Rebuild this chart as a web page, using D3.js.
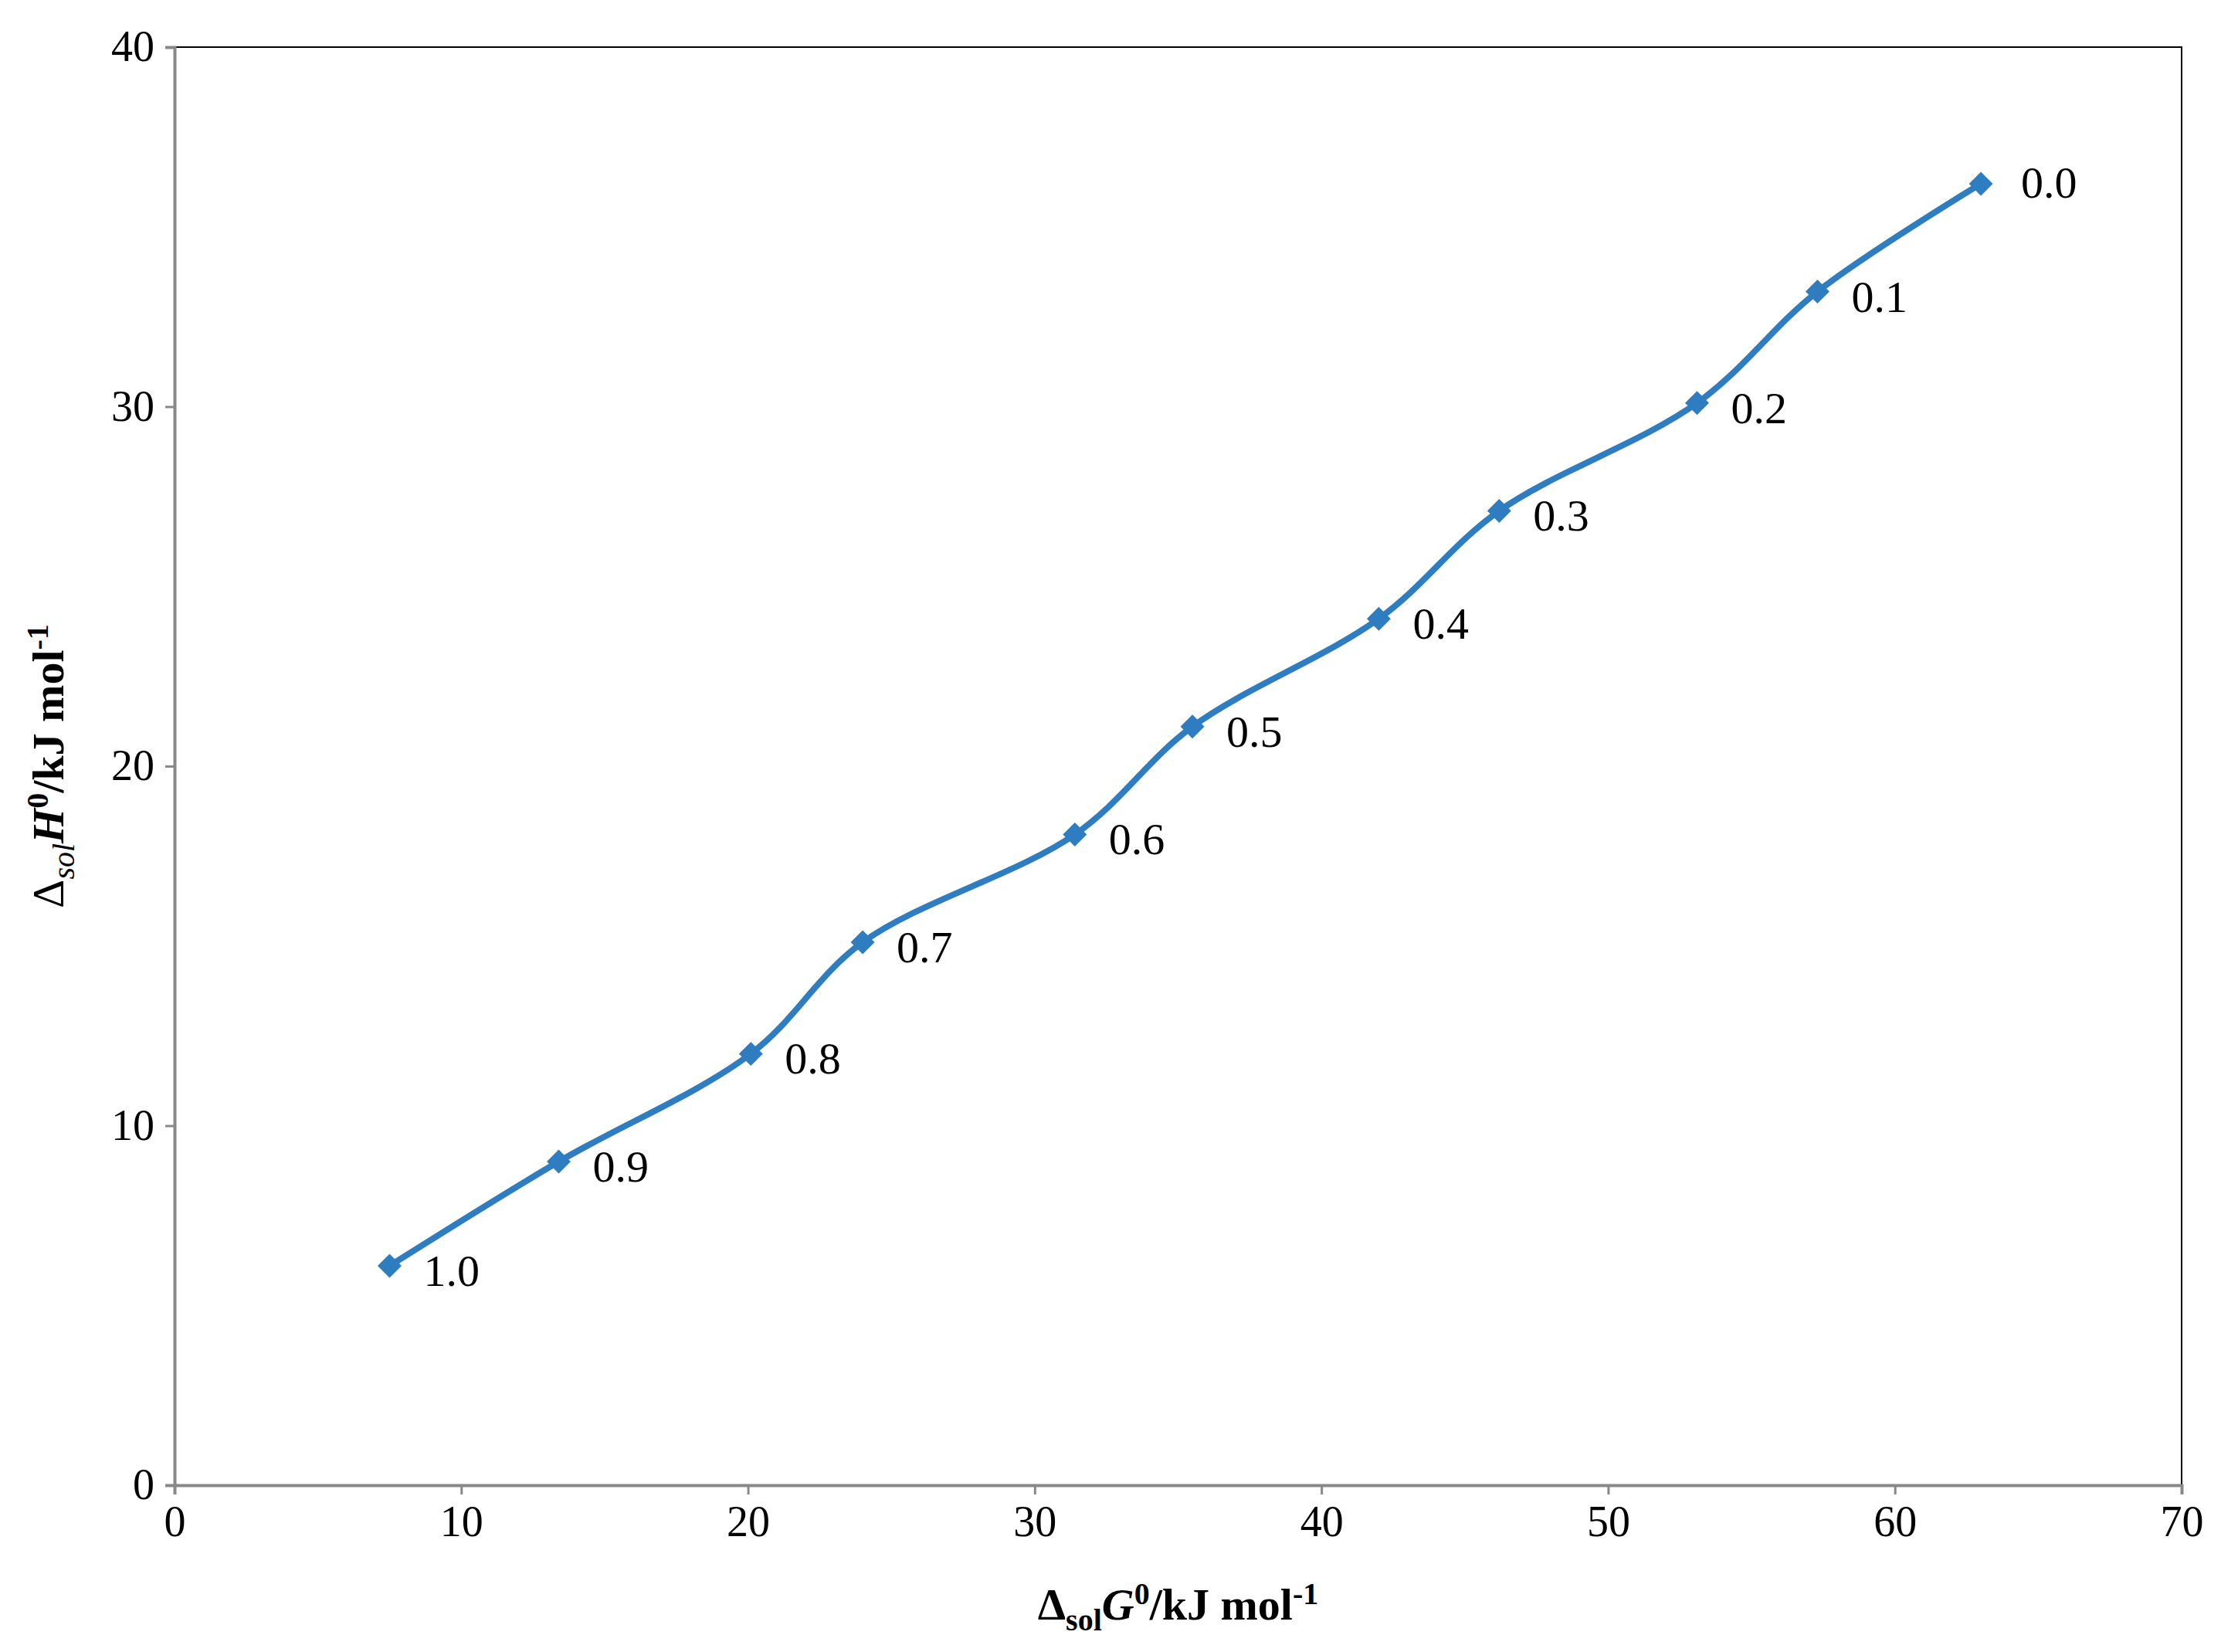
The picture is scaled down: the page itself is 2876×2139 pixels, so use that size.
<!DOCTYPE html>
<html><head><meta charset="utf-8">
<script src="https://cdn.jsdelivr.net/npm/d3@7"></script>
<style>body{margin:0;background:#fff}text{font-family:"Liberation Serif","Times New Roman",serif}</style>
</head><body>
<script>
var xVals = [7.5, 13.4, 20.1, 24.0, 31.4, 35.5, 42.0, 46.2, 53.1, 57.3, 63.0];
var yVals = [6.1, 9.0, 12.0, 15.1, 18.1, 21.1, 24.1, 27.1, 30.1, 33.2, 36.2];
var pointLabels = ["1.0","0.9","0.8","0.7","0.6","0.5","0.4","0.3","0.2","0.1","0.0"];
var xTicks = [0,10,20,30,40,50,60,70];
var yTicks = [0,10,20,30,40];

var W = 2876, H = 2139;
var margin = {top: 61, right: 51, bottom: 216, left: 226};
var width = W - margin.left - margin.right, height = H - margin.top - margin.bottom;
var data = xVals.map(function(x,i){ return {x:x, y:yVals[i], label:pointLabels[i]} });

var svg = d3.select("body").append("svg").attr("width",W).attr("height",H);
var g = svg.append("g").attr("transform","translate("+margin.left+","+margin.top+")");

var xScale = d3.scaleLinear().domain([0,70]).range([0,width]);
var yScale = d3.scaleLinear().domain([0,40]).range([height,0]);

g.append("rect").attr("width",width).attr("height",height).attr("fill","none").attr("stroke","#000").attr("stroke-width",2);

var xAxis = g.append("g").attr("transform","translate(0,"+height+")")
  .call(d3.axisBottom(xScale).tickValues(xTicks).tickSize(12).tickPadding(14));
var yAxis = g.append("g").call(d3.axisLeft(yScale).tickValues(yTicks).tickSize(12).tickPadding(14));
[xAxis,yAxis].forEach(function(a){
  a.select(".domain").attr("stroke","#888").attr("stroke-width",4);
  a.selectAll(".tick line").attr("stroke","#888").attr("stroke-width",3);
  a.selectAll(".tick text").attr("font-size",56).attr("fill","#000").attr("font-family","Liberation Serif");
});

g.append("path").datum(data).attr("fill","none").attr("stroke","#2e7dc0").attr("stroke-width",8)
  .attr("d", d3.line().x(d=>xScale(d.x)).y(d=>yScale(d.y)).curve(d3.curveCatmullRom.alpha(0.5)));

g.selectAll(".pt").data(data).enter().append("path").attr("class","pt")
  .attr("d", d3.symbol().type(d3.symbolSquare).size(480))
  .attr("transform", d=>"translate("+xScale(d.x)+","+yScale(d.y)+") rotate(45)")
  .attr("fill","#2e7dc0");

g.selectAll(".lbl").data(data).enter().append("text").attr("class","lbl")
  .attr("x", d=>xScale(d.x)+(d.label=="0.0"?52:44)).attr("y", d=>yScale(d.y)+(d.label=="0.0"?18:26))
  .attr("font-size",58).text(d=>d.label);

var xl = svg.append("text").attr("x",margin.left+width/2).attr("y",H-42).attr("text-anchor","middle")
  .attr("font-size",58).attr("font-weight","bold");
xl.append("tspan").text("Δ");
xl.append("tspan").attr("font-size",40).attr("dy",14).text("sol");
xl.append("tspan").attr("dy",-14).attr("font-style","italic").text("G");
xl.append("tspan").attr("font-size",40).attr("dy",-20).text("0");
xl.append("tspan").attr("dy",20).text("/kJ mol");
xl.append("tspan").attr("font-size",40).attr("dy",-20).text("-1");

var yl = svg.append("text").attr("transform","translate(82,"+(margin.top+height/2)+") rotate(-90)")
  .attr("text-anchor","middle").attr("font-size",58).attr("font-weight","bold");
yl.append("tspan").attr("font-weight","normal").text("Δ");
yl.append("tspan").attr("font-size",40).attr("font-style","italic").attr("font-weight","normal").attr("dy",14).text("sol");
yl.append("tspan").attr("dy",-14).attr("font-style","italic").text("H");
yl.append("tspan").attr("font-size",40).attr("dy",-20).text("0");
yl.append("tspan").attr("dy",20).text("/kJ mol");
yl.append("tspan").attr("font-size",40).attr("dy",-20).text("-1");
</script>
</body></html>
